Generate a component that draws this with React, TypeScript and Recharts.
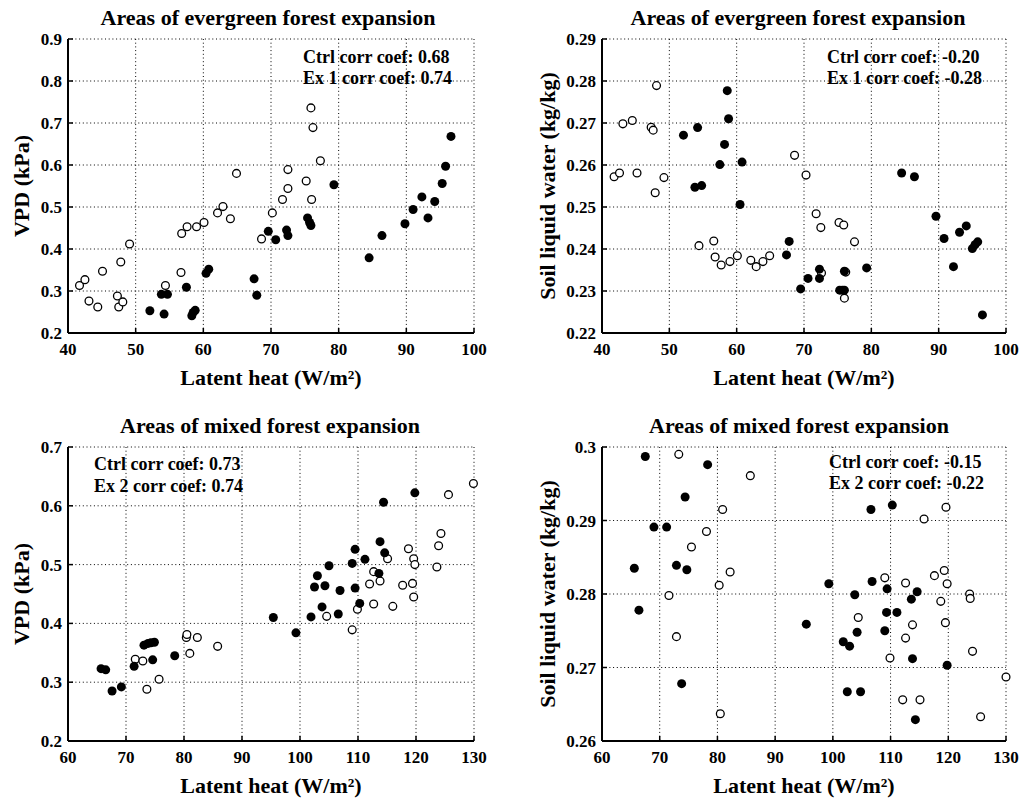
import React from 'react'
import { ScatterChart, Scatter, XAxis, YAxis, CartesianGrid } from 'recharts'

type Pt = [number, number]

// evergreen forest expansion: latent heat vs VPD
const evgVpdCtrl: Pt[] = [
  [52.1, 0.253], [53.8, 0.292], [54.2, 0.245], [54.7, 0.292], [57.5, 0.309], [58.3, 0.241], [58.5, 0.249],
  [58.8, 0.254], [60.4, 0.342], [60.8, 0.352], [67.5, 0.329], [67.9, 0.29], [69.6, 0.442], [70.7, 0.422],
  [72.3, 0.445], [72.5, 0.432], [75.4, 0.474], [75.7, 0.463], [75.9, 0.456], [79.3, 0.553], [84.5, 0.379],
  [86.4, 0.432], [89.8, 0.46], [91.0, 0.494], [92.3, 0.524], [93.2, 0.474], [94.2, 0.513], [95.3, 0.556],
  [95.8, 0.597], [96.6, 0.668],
]
const evgVpdEx1: Pt[] = [
  [41.7, 0.313], [42.5, 0.327], [43.1, 0.276], [44.4, 0.262], [45.1, 0.347], [47.3, 0.288], [47.5, 0.262],
  [48.1, 0.274], [47.8, 0.369], [49.1, 0.412], [54.4, 0.313], [56.7, 0.344], [56.8, 0.437], [57.6, 0.453],
  [59.0, 0.453], [60.1, 0.463], [62.1, 0.486], [62.9, 0.501], [64.0, 0.472], [64.9, 0.58], [68.6, 0.424],
  [70.2, 0.486], [71.7, 0.518], [72.5, 0.544], [72.5, 0.589], [75.2, 0.562], [76.0, 0.518], [75.9, 0.736],
  [76.2, 0.689], [77.3, 0.61],
]

// evergreen forest expansion: latent heat vs soil liquid water
const evgSoilCtrl: Pt[] = [
  [52.1, 0.2671], [54.2, 0.2689], [53.8, 0.2547], [54.8, 0.2551], [57.5, 0.2601], [58.2, 0.2649], [58.6, 0.2777],
  [58.8, 0.271], [60.8, 0.2607], [60.5, 0.2506], [67.4, 0.2386], [67.8, 0.2418], [69.5, 0.2305], [70.6, 0.233],
  [72.3, 0.2352], [72.3, 0.233], [75.3, 0.2302], [75.7, 0.2302], [76.0, 0.2302], [76.0, 0.2347], [79.3, 0.2355],
  [84.5, 0.2581], [86.4, 0.2572], [89.6, 0.2478], [90.8, 0.2425], [92.2, 0.2358], [93.1, 0.244], [94.1, 0.2455],
  [95.0, 0.2401], [95.4, 0.241], [95.8, 0.2417], [96.5, 0.2243],
]
const evgSoilEx1: Pt[] = [
  [41.8, 0.2572], [42.6, 0.2581], [43.1, 0.2698], [44.5, 0.2706], [45.2, 0.2581], [47.3, 0.269], [47.6, 0.2683],
  [47.9, 0.2534], [48.1, 0.2789], [49.2, 0.257], [54.4, 0.2408], [56.6, 0.2419], [56.8, 0.2381], [57.7, 0.2362],
  [59.0, 0.237], [60.1, 0.2384], [62.1, 0.2373], [62.9, 0.2358], [63.9, 0.237], [64.9, 0.2384], [68.6, 0.2623],
  [70.3, 0.2576], [71.8, 0.2484], [72.5, 0.2451], [72.6, 0.2343], [75.2, 0.2463], [75.9, 0.2457], [77.5, 0.2417],
  [76.2, 0.2345], [76.0, 0.2283],
]

// mixed forest expansion: latent heat vs VPD
const mixVpdCtrl: Pt[] = [
  [65.7, 0.323], [66.5, 0.321], [67.6, 0.285], [69.2, 0.292], [71.4, 0.327], [73.1, 0.363], [73.8, 0.366],
  [74.3, 0.367], [74.9, 0.368], [74.6, 0.338], [78.4, 0.345], [95.4, 0.41], [99.3, 0.384], [101.9, 0.411],
  [102.5, 0.462], [103.0, 0.481], [103.8, 0.428], [104.3, 0.464], [105.0, 0.498], [106.6, 0.416], [106.9, 0.456],
  [109.0, 0.502], [109.5, 0.526], [109.5, 0.46], [110.3, 0.434], [111.2, 0.509], [113.8, 0.539], [113.6, 0.485],
  [114.6, 0.52], [114.4, 0.606], [119.8, 0.622],
]
const mixVpdEx2: Pt[] = [
  [71.6, 0.339], [72.9, 0.336], [73.6, 0.288], [75.7, 0.305], [80.4, 0.376], [80.5, 0.381], [82.3, 0.376],
  [81.0, 0.349], [85.8, 0.361], [104.6, 0.412], [109.0, 0.389], [109.9, 0.424], [112.7, 0.433], [112.0, 0.467],
  [112.7, 0.488], [113.8, 0.472], [115.1, 0.51], [116.0, 0.429], [117.7, 0.465], [118.7, 0.527], [119.6, 0.51],
  [119.8, 0.5], [119.4, 0.468], [119.6, 0.445], [123.6, 0.496], [123.9, 0.532], [124.3, 0.553], [125.6, 0.619],
  [129.9, 0.638],
]

// mixed forest expansion: latent heat vs soil liquid water
const mixSoilCtrl: Pt[] = [
  [67.5, 0.2987], [78.3, 0.2976], [74.4, 0.2932], [69.0, 0.2891], [71.2, 0.2891], [65.6, 0.2835], [72.9, 0.2839],
  [74.7, 0.2833], [66.4, 0.2778], [73.8, 0.2678], [95.4, 0.2759], [99.3, 0.2814], [106.6, 0.2915], [110.3, 0.2921],
  [106.8, 0.2817], [109.4, 0.2807], [103.8, 0.2799], [114.6, 0.2803], [113.6, 0.2793], [109.3, 0.2775],
  [111.1, 0.2775], [104.2, 0.2748], [109.0, 0.275], [101.8, 0.2735], [102.9, 0.2729], [113.8, 0.2712],
  [119.8, 0.2703], [102.5, 0.2667], [104.8, 0.2667], [114.3, 0.2629],
]
const mixSoilEx2: Pt[] = [
  [73.3, 0.299], [85.7, 0.2961], [80.9, 0.2915], [78.1, 0.2885], [75.5, 0.2864], [82.2, 0.283], [80.3, 0.2812],
  [71.6, 0.2798], [72.9, 0.2742], [80.5, 0.2637], [119.6, 0.2918], [115.8, 0.2902], [109.0, 0.2822], [112.6, 0.2815],
  [117.6, 0.2825], [119.3, 0.2832], [119.8, 0.2814], [118.7, 0.279], [104.4, 0.2768], [113.8, 0.2758],
  [119.5, 0.2761], [112.6, 0.274], [123.7, 0.28], [123.8, 0.2794], [109.9, 0.2713], [124.2, 0.2722],
  [130.0, 0.2687], [112.1, 0.2656], [115.1, 0.2656], [125.6, 0.2633],
]

const evgHeatTicks = [40, 50, 60, 70, 80, 90, 100]
const mixHeatTicks = [60, 70, 80, 90, 100, 110, 120, 130]
const evgVpdTicks = [0.2, 0.3, 0.4, 0.5, 0.6, 0.7, 0.8, 0.9]
const evgSoilTicks = [0.22, 0.23, 0.24, 0.25, 0.26, 0.27, 0.28, 0.29]
const mixVpdTicks = [0.2, 0.3, 0.4, 0.5, 0.6, 0.7]
const mixSoilTicks = [0.26, 0.27, 0.28, 0.29, 0.3]

const evgTitle = 'Areas of evergreen forest expansion'
const mixTitle = 'Areas of mixed forest expansion'
const heatLabel = 'Latent heat (W/m²)'
const vpdLabel = 'VPD (kPa)'
const soilLabel = 'Soil liquid water (kg/kg)'

const serif = '"Liberation Serif", "Times New Roman", serif'
const tickFont = { fontFamily: serif, fontWeight: 700, fontSize: 17, fill: '#000' }

const toRows = (pts: Pt[]) => pts.map(([x, y]) => ({ x, y }))

const XTick = (p: any) => (
  <g>
    <line x1={p.x} y1={p.y} x2={p.x} y2={p.y - 5} stroke="#000" strokeWidth={1.5} />
    <text x={p.x} y={p.y + 22} textAnchor="middle" style={tickFont}>{String(p.payload.value)}</text>
  </g>
)

const YTick = (p: any) => (
  <g>
    <line x1={p.x} y1={p.y} x2={p.x + 5} y2={p.y} stroke="#000" strokeWidth={1.5} />
    <text x={p.x - 6} y={p.y + 6} textAnchor="end" style={tickFont}>{String(p.payload.value)}</text>
  </g>
)

const filledDot = (p: any) => <circle cx={p.cx} cy={p.cy} r={4.5} fill="#000" />
const openDot = (p: any) => <circle cx={p.cx} cy={p.cy} r={3.9} fill="#fff" stroke="#000" strokeWidth={1.3} />

type PanelProps = {
  left: number
  top: number
  margin: { top: number; right: number; bottom: number; left: number }
  xTicks: number[]
  yTicks: number[]
  ctrl: Pt[]
  ex: Pt[]
}

const Panel: React.FC<PanelProps> = ({ left, top, margin, xTicks, yTicks, ctrl, ex }) => (
  <div style={{ position: 'absolute', left, top }}>
    <ScatterChart width={511} height={399} margin={margin}>
      <CartesianGrid stroke="#000" strokeWidth={1} strokeDasharray="1 2.7" />
      <XAxis
        type="number"
        dataKey="x"
        domain={[xTicks[0], xTicks[xTicks.length - 1]]}
        ticks={xTicks}
        interval={0}
        height={40}
        tickSize={0}
        tickMargin={0}
        tickLine={false}
        axisLine={{ stroke: '#000', strokeWidth: 2 }}
        tick={XTick}
      />
      <YAxis
        type="number"
        dataKey="y"
        domain={[yTicks[0], yTicks[yTicks.length - 1]]}
        ticks={yTicks}
        interval={0}
        width={60}
        tickSize={0}
        tickMargin={0}
        tickLine={false}
        axisLine={{ stroke: '#000', strokeWidth: 2 }}
        tick={YTick}
      />
      <Scatter data={toRows(ex)} shape={openDot} isAnimationActive={false} />
      <Scatter data={toRows(ctrl)} shape={filledDot} isAnimationActive={false} />
    </ScatterChart>
  </div>
)

const titleStyle = { fontFamily: serif, fontWeight: 700, fontSize: 22, fill: '#000' }
const noteStyle = { fontFamily: serif, fontWeight: 700, fontSize: 18, fill: '#000' }

export default function App() {
  return (
    <div style={{ position: 'absolute', left: 0, top: 0, width: 1022, height: 798, background: '#fff' }}>
      <Panel left={0} top={0} margin={{ top: 39, right: 37, bottom: 26, left: 8 }} xTicks={evgHeatTicks} yTicks={evgVpdTicks} ctrl={evgVpdCtrl} ex={evgVpdEx1} />
      <Panel left={511} top={0} margin={{ top: 39, right: 16, bottom: 26, left: 31 }} xTicks={evgHeatTicks} yTicks={evgSoilTicks} ctrl={evgSoilCtrl} ex={evgSoilEx1} />
      <Panel left={0} top={399} margin={{ top: 48, right: 37, bottom: 17, left: 8 }} xTicks={mixHeatTicks} yTicks={mixVpdTicks} ctrl={mixVpdCtrl} ex={mixVpdEx2} />
      <Panel left={511} top={399} margin={{ top: 48, right: 16, bottom: 17, left: 31 }} xTicks={mixHeatTicks} yTicks={mixSoilTicks} ctrl={mixSoilCtrl} ex={mixSoilEx2} />
      <svg width={1022} height={798} style={{ position: 'absolute', left: 0, top: 0, pointerEvents: 'none' }}>
        <text x={268} y={25} textAnchor="middle" style={titleStyle}>{evgTitle}</text>
        <text x={798} y={25} textAnchor="middle" style={titleStyle}>{evgTitle}</text>
        <text x={270} y={433} textAnchor="middle" style={titleStyle}>{mixTitle}</text>
        <text x={799} y={433} textAnchor="middle" style={titleStyle}>{mixTitle}</text>

        <text x={271} y={385} textAnchor="middle" style={titleStyle}>{heatLabel}</text>
        <text x={804} y={385} textAnchor="middle" style={titleStyle}>{heatLabel}</text>
        <text x={271} y={793} textAnchor="middle" style={titleStyle}>{heatLabel}</text>
        <text x={804} y={793} textAnchor="middle" style={titleStyle}>{heatLabel}</text>

        <text transform="translate(29,186) rotate(-90)" textAnchor="middle" style={titleStyle}>{vpdLabel}</text>
        <text transform="translate(555,186) rotate(-90)" textAnchor="middle" style={titleStyle}>{soilLabel}</text>
        <text transform="translate(29,594) rotate(-90)" textAnchor="middle" style={titleStyle}>{vpdLabel}</text>
        <text transform="translate(555,594) rotate(-90)" textAnchor="middle" style={titleStyle}>{soilLabel}</text>

        <text x={303} y={63} style={noteStyle}>Ctrl corr coef: 0.68</text>
        <text x={303} y={84} style={noteStyle}>Ex 1 corr coef: 0.74</text>
        <text x={827} y={63} style={noteStyle}>Ctrl corr coef: -0.20</text>
        <text x={827} y={84} style={noteStyle}>Ex 1 corr coef: -0.28</text>
        <text x={94} y={470} style={noteStyle}>Ctrl corr coef: 0.73</text>
        <text x={94} y={492} style={noteStyle}>Ex 2 corr coef: 0.74</text>
        <text x={829} y={468} style={noteStyle}>Ctrl corr coef: -0.15</text>
        <text x={829} y={489} style={noteStyle}>Ex 2 corr coef: -0.22</text>
      </svg>
    </div>
  )
}
